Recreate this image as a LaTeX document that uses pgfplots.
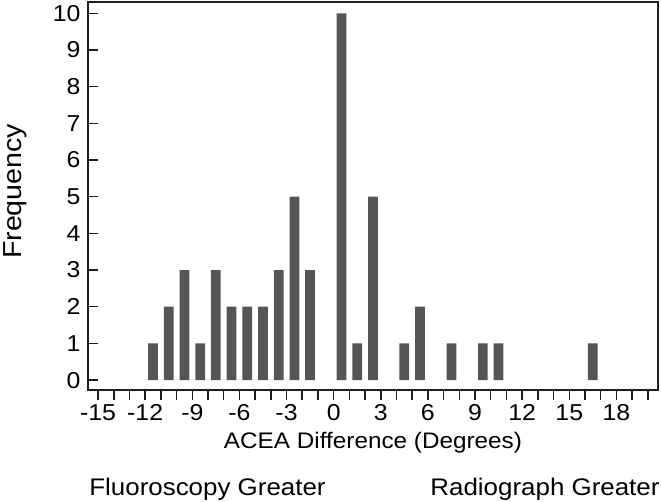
\documentclass[border=0pt]{standalone}
\usepackage{graphicx}
\usepackage{fontspec}
\setmainfont{Liberation Sans}
\usepackage{pgfplots}
\pgfplotsset{compat=1.18}
\definecolor{barc}{RGB}{85,85,85}
\definecolor{axc}{RGB}{30,30,30}
\newcommand{\sx}[1]{\scalebox{1.08}[1]{#1}}
\begin{document}
\begin{tikzpicture}
\useasboundingbox (-88pt,-112pt) rectangle (573pt,390pt);
\begin{axis}[
  at={(0pt,0pt)}, anchor=south west,
  scale only axis,
  width=570pt, height=388pt,
  xmin=-15.64, xmax=20.65,
  ymin=-0.27, ymax=10.31,
  axis line style={line width=1.8pt, axc},
  every tick/.style={line width=1.5pt, axc},
  tick align=inside,
  major tick length=10pt,
  xtick pos=bottom, ytick pos=left,
  xtick={-15,...,20},
  xticklabels={\sx{-15},,,\sx{-12},,,\sx{-9},,,\sx{-6},,,\sx{-3},,,\sx{0},,,\sx{3},,,\sx{6},,,\sx{9},,,\sx{12},,,\sx{15},,,\sx{18},,},
  ytick={0,...,10},
  yticklabel={\sx{\pgfmathprintnumber{\tick}}},
  /pgf/number format/assume math mode=true,
  tick label style={font=\fontsize{23}{26}\selectfont},
  xticklabel style={yshift=-1pt},
  yticklabel style={xshift=-4pt},
  xlabel={\scalebox{1.08}[1]{ACEA Difference (Degrees)}},
  every axis x label/.style={at={(rel axis cs:0.5,0)}, anchor=center, yshift=-53pt, font=\fontsize{22.5}{26}\selectfont},
  ylabel={\scalebox{1.1}[1]{Frequency}},
  every axis y label/.style={at={(axis description cs:-0.128,0.512)}, anchor=center, rotate=90, font=\fontsize{26}{30}\selectfont},
  clip=false,
  ybar, bar width=0.62,
]
\addplot[fill=barc, draw=none] coordinates {
  (-11.5,1) (-10.5,2) (-9.5,3) (-8.5,1) (-7.5,3) (-6.5,2) (-5.5,2) (-4.5,2)
  (-3.5,3) (-2.5,5) (-1.5,3) (0.5,10) (1.5,1) (2.5,5) (4.5,1) (5.5,2)
  (7.5,1) (9.5,1) (10.5,1) (16.5,1)
};
\end{axis}
\node[font=\fontsize{24}{28}\selectfont] at (119.5pt,-99pt) {\scalebox{1.08}[1]{Fluoroscopy Greater}};
\node[font=\fontsize{24}{28}\selectfont] at (457pt,-99pt) {\scalebox{1.08}[1]{Radiograph Greater}};
\end{tikzpicture}
\end{document}
